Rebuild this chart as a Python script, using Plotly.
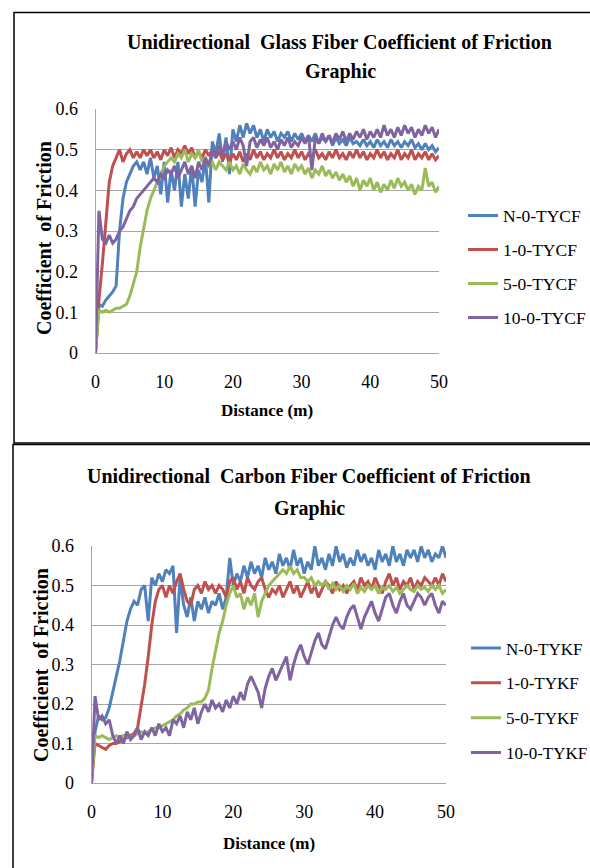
import plotly.graph_objects as go

# ---------------- data ----------------
DIST = [round(i * 0.5, 1) for i in range(101)]  # distance sampling grid (m)

X_TICKS = [0, 10, 20, 30, 40, 50]
Y_TICKS = [0, 0.1, 0.2, 0.3, 0.4, 0.5, 0.6]
Y_TICKTEXT = ["0", "0.1", "0.2", "0.3", "0.4", "0.5", "0.6"]

GLASS_NAMES = ["N-0-TYCF", "1-0-TYCF", "5-0-TYCF", "10-0-TYCF"]
CARBON_NAMES = ["N-0-TYKF", "1-0-TYKF", "5-0-TYKF", "10-0-TYKF"]

glass_n = [
    0, 0.12, 0.115, 0.13, 0.14, 0.15, 0.165, 0.30, 0.38, 0.42,
    0.44, 0.46, 0.47, 0.45, 0.47, 0.44, 0.48, 0.43, 0.46, 0.39,
    0.47, 0.37, 0.45, 0.40, 0.47, 0.36, 0.44, 0.38, 0.46, 0.36,
    0.45, 0.42, 0.48, 0.37, 0.52, 0.49, 0.54, 0.47, 0.53, 0.44,
    0.55, 0.52, 0.56, 0.53, 0.565, 0.54, 0.56, 0.53, 0.55, 0.52,
    0.55, 0.53, 0.545, 0.52, 0.54, 0.53, 0.545, 0.52, 0.54, 0.525,
    0.54, 0.52, 0.535, 0.52, 0.54, 0.515, 0.53, 0.52, 0.535, 0.51,
    0.53, 0.515, 0.525, 0.51, 0.53, 0.515, 0.52, 0.51, 0.525, 0.51,
    0.52, 0.505, 0.525, 0.51, 0.52, 0.505, 0.525, 0.51, 0.52, 0.505,
    0.52, 0.51, 0.525, 0.505, 0.515, 0.50, 0.515, 0.50, 0.51, 0.495,
    0.505,
]
glass_1 = [
    0, 0.13, 0.22, 0.33, 0.42, 0.46, 0.48, 0.50, 0.47, 0.49,
    0.50, 0.48, 0.495, 0.48, 0.50, 0.485, 0.50, 0.48, 0.495, 0.475,
    0.50, 0.485, 0.505, 0.48, 0.50, 0.49, 0.51, 0.49, 0.505, 0.48,
    0.495, 0.48, 0.50, 0.485, 0.50, 0.48, 0.495, 0.475, 0.49, 0.47,
    0.49, 0.475, 0.495, 0.47, 0.49, 0.475, 0.50, 0.48, 0.495, 0.475,
    0.49, 0.48, 0.50, 0.48, 0.495, 0.475, 0.49, 0.48, 0.50, 0.48,
    0.495, 0.475, 0.49, 0.48, 0.50, 0.48, 0.49, 0.475, 0.495, 0.48,
    0.50, 0.48, 0.49, 0.475, 0.495, 0.48, 0.50, 0.48, 0.495, 0.475,
    0.49, 0.48, 0.50, 0.48, 0.495, 0.475, 0.49, 0.48, 0.50, 0.475,
    0.49, 0.48, 0.50, 0.475, 0.49, 0.48, 0.495, 0.475, 0.49, 0.475,
    0.485,
]
glass_5 = [
    0, 0.105, 0.10, 0.105, 0.10, 0.105, 0.11, 0.11, 0.115, 0.12,
    0.14, 0.17, 0.20, 0.26, 0.31, 0.35, 0.38, 0.40, 0.42, 0.44,
    0.46, 0.47, 0.48, 0.47, 0.49, 0.48, 0.50, 0.47, 0.49, 0.48,
    0.50, 0.47, 0.48, 0.46, 0.47, 0.45, 0.47, 0.46, 0.45, 0.47,
    0.45, 0.46, 0.44, 0.465, 0.45, 0.44, 0.46, 0.445, 0.47, 0.45,
    0.46, 0.44, 0.465, 0.45, 0.47, 0.445, 0.46, 0.44, 0.465, 0.45,
    0.46, 0.44, 0.455, 0.43, 0.45, 0.44, 0.46, 0.435, 0.45, 0.43,
    0.445, 0.425, 0.44, 0.42, 0.435, 0.41, 0.43, 0.40, 0.425, 0.41,
    0.43, 0.40, 0.42, 0.395, 0.415, 0.40, 0.425, 0.405, 0.43, 0.41,
    0.42, 0.40, 0.415, 0.39, 0.41, 0.40, 0.455, 0.41, 0.42, 0.395,
    0.41,
]
glass_10 = [
    0, 0.35, 0.28, 0.27, 0.29, 0.27, 0.28, 0.30, 0.31, 0.33,
    0.35, 0.36, 0.38, 0.39, 0.40, 0.41, 0.42, 0.43, 0.42, 0.44,
    0.43, 0.45, 0.44, 0.46, 0.43, 0.45, 0.47, 0.44, 0.46, 0.43,
    0.47, 0.45, 0.48, 0.46, 0.50, 0.48, 0.51, 0.49, 0.52, 0.50,
    0.52, 0.50, 0.53, 0.51, 0.46, 0.52, 0.53, 0.505, 0.525, 0.51,
    0.53, 0.505, 0.52, 0.50, 0.525, 0.51, 0.53, 0.505, 0.52, 0.51,
    0.53, 0.515, 0.535, 0.45, 0.53, 0.515, 0.54, 0.52, 0.535, 0.515,
    0.54, 0.525, 0.545, 0.52, 0.54, 0.525, 0.545, 0.53, 0.55, 0.525,
    0.545, 0.53, 0.55, 0.53, 0.56, 0.535, 0.55, 0.53, 0.555, 0.535,
    0.56, 0.54, 0.555, 0.53, 0.55, 0.535, 0.56, 0.54, 0.555, 0.53,
    0.55,
]

carbon_n = [
    0, 0.13, 0.17, 0.16, 0.165, 0.19, 0.23, 0.27, 0.31, 0.36,
    0.41, 0.44, 0.46, 0.45, 0.49, 0.50, 0.41, 0.52, 0.50, 0.53,
    0.51, 0.54, 0.53, 0.55, 0.38, 0.52, 0.45, 0.42, 0.47, 0.41,
    0.46, 0.44, 0.47, 0.43, 0.46, 0.45, 0.48, 0.44, 0.47, 0.57,
    0.50, 0.53, 0.51, 0.55, 0.52, 0.56, 0.53, 0.55, 0.52, 0.57,
    0.54, 0.56, 0.53, 0.58, 0.55, 0.57, 0.54, 0.59, 0.55, 0.57,
    0.53, 0.56, 0.54, 0.60, 0.55, 0.57, 0.54, 0.58, 0.55, 0.60,
    0.56, 0.58, 0.545, 0.57, 0.55, 0.59, 0.56, 0.58, 0.55, 0.57,
    0.54, 0.59, 0.56, 0.58, 0.55, 0.60, 0.56, 0.58, 0.55, 0.59,
    0.57, 0.59, 0.56, 0.60, 0.57, 0.59, 0.56, 0.58, 0.57, 0.60,
    0.57,
]
carbon_1 = [
    0, 0.10, 0.095, 0.09, 0.085, 0.095, 0.10, 0.10, 0.105, 0.11,
    0.115, 0.12, 0.125, 0.14, 0.19, 0.25, 0.32, 0.40, 0.46, 0.49,
    0.50, 0.47, 0.50, 0.48, 0.51, 0.53, 0.49, 0.46, 0.45, 0.49,
    0.50, 0.48, 0.51, 0.49, 0.50, 0.48, 0.50, 0.49, 0.47, 0.51,
    0.52, 0.49, 0.51, 0.48, 0.52, 0.50, 0.49, 0.51, 0.52, 0.49,
    0.47, 0.49, 0.48, 0.50, 0.47, 0.49, 0.51, 0.48, 0.50, 0.47,
    0.49, 0.51, 0.48, 0.50, 0.47, 0.49, 0.51, 0.50, 0.48, 0.51,
    0.49, 0.50, 0.48, 0.50, 0.51, 0.49, 0.52, 0.50, 0.51, 0.49,
    0.52, 0.50, 0.48, 0.51, 0.53, 0.50, 0.52, 0.49, 0.51, 0.50,
    0.52, 0.49, 0.51, 0.50, 0.52, 0.51, 0.50, 0.52, 0.50, 0.53,
    0.51,
]
carbon_5 = [
    0, 0.12, 0.115, 0.12, 0.115, 0.11, 0.115, 0.12, 0.115, 0.12,
    0.12, 0.115, 0.12, 0.125, 0.13, 0.125, 0.13, 0.135, 0.14, 0.14,
    0.145, 0.15, 0.155, 0.16, 0.17, 0.175, 0.185, 0.19, 0.20, 0.20,
    0.205, 0.205, 0.215, 0.235, 0.29, 0.34, 0.38, 0.41, 0.45, 0.48,
    0.50, 0.47, 0.48, 0.44, 0.47, 0.45, 0.48, 0.42, 0.46, 0.48,
    0.50, 0.51, 0.52, 0.53, 0.54, 0.53, 0.55, 0.53, 0.54, 0.52,
    0.52, 0.51, 0.52, 0.50, 0.51, 0.50, 0.51, 0.49, 0.505, 0.49,
    0.50, 0.485, 0.50, 0.49, 0.505, 0.48, 0.495, 0.485, 0.50, 0.49,
    0.50, 0.48, 0.495, 0.49, 0.50, 0.485, 0.495, 0.48, 0.49, 0.50,
    0.49, 0.485, 0.50, 0.49, 0.495, 0.485, 0.50, 0.49, 0.50, 0.48,
    0.49,
]
carbon_10 = [
    0, 0.22, 0.16, 0.17, 0.15, 0.16, 0.12, 0.10, 0.12, 0.10,
    0.13, 0.11, 0.12, 0.14, 0.11, 0.13, 0.12, 0.14, 0.12, 0.15,
    0.13, 0.14, 0.12, 0.16, 0.15, 0.17, 0.14, 0.18, 0.16, 0.19,
    0.15, 0.18, 0.20, 0.18, 0.21, 0.19, 0.20, 0.18, 0.21, 0.19,
    0.22, 0.20, 0.23, 0.21, 0.25, 0.27, 0.25, 0.23, 0.19, 0.24,
    0.27, 0.29, 0.26, 0.28, 0.30, 0.32, 0.26, 0.30, 0.33, 0.35,
    0.32, 0.30, 0.33, 0.36, 0.38, 0.35, 0.34, 0.37, 0.40, 0.42,
    0.40, 0.39, 0.42, 0.44, 0.45, 0.42, 0.39, 0.42, 0.44, 0.46,
    0.43, 0.41, 0.44, 0.47, 0.48, 0.45, 0.43, 0.46, 0.48, 0.45,
    0.44, 0.46, 0.48, 0.47, 0.45, 0.47, 0.48, 0.45, 0.43, 0.46,
    0.45,
]

for s in (glass_n, glass_1, glass_5, glass_10, carbon_n, carbon_1, carbon_5, carbon_10):
    assert len(s) == len(DIST), len(s)

COLORS = ["#4F81BD", "#C0504D", "#9BBB59", "#8064A2"]

# ---------------- layout helpers ----------------
W, H = 590, 868
SERIF = "Liberation Serif, Times New Roman, serif"
GRID = "#a6a6a6"


def px(x):
    return x / W


def py(y):
    return 1 - y / H


fig = go.Figure()

for name, vals, col in zip(GLASS_NAMES, [glass_n, glass_1, glass_5, glass_10], COLORS):
    fig.add_trace(go.Scatter(x=DIST, y=vals, mode="lines", name=name,
                             line=dict(color=col, width=3),
                             xaxis="x", yaxis="y", legend="legend", legendgroup=name))

for name, vals, col in zip(CARBON_NAMES, [carbon_n, carbon_1, carbon_5, carbon_10], COLORS):
    fig.add_trace(go.Scatter(x=DIST, y=vals, mode="lines", name=name,
                             line=dict(color=col, width=3),
                             xaxis="x2", yaxis="y2", legend="legend2", legendgroup=name))

tickfont = dict(family=SERIF, size=18, color="black")


def xax(domain, anchor):
    return dict(domain=domain, anchor=anchor, range=[0, 50], tickvals=X_TICKS,
                showgrid=False, showline=True, linecolor=GRID, linewidth=1,
                zeroline=False, ticks="", tickfont=tickfont, automargin=False,
                ticklabelstandoff=12, fixedrange=True)


def yax(domain, anchor):
    return dict(domain=domain, anchor=anchor, range=[0, 0.6], tickvals=Y_TICKS,
                ticktext=Y_TICKTEXT, showgrid=True, gridcolor=GRID, gridwidth=1,
                showline=True, linecolor=GRID, linewidth=1, zeroline=False,
                ticks="", tickfont=tickfont, automargin=False,
                ticklabelstandoff=13, fixedrange=True)


fig.update_layout(
    width=W, height=868, autosize=False, template="none",
    margin=dict(l=0, r=0, t=0, b=0, pad=0, autoexpand=False),
    paper_bgcolor="white", plot_bgcolor="white",
    xaxis=xax([px(95.5), px(439)], "y"),
    yaxis=yax([py(353), py(109)], "x"),
    xaxis2=xax([px(91.5), px(446)], "y2"),
    yaxis2=yax([py(783), py(546)], "x2"),
    legend=dict(x=px(463), y=py(197.5), xanchor="left", yanchor="top",
                font=dict(family=SERIF, size=17.5, color="black"),
                bgcolor="rgba(0,0,0,0)", borderwidth=0,
                tracegroupgap=8.3, itemwidth=30),
    legend2=dict(x=px(466), y=py(630.5), xanchor="left", yanchor="top",
                 font=dict(family=SERIF, size=17, color="black"),
                 bgcolor="rgba(0,0,0,0)", borderwidth=0,
                 tracegroupgap=9.7, itemwidth=30),
    showlegend=True,
)

ann = []


def text(x, y, s, size, angle=0):
    ann.append(dict(x=px(x), y=py(y), xref="paper", yref="paper", text=s,
                    showarrow=False, xanchor="center", yanchor="middle",
                    textangle=angle, font=dict(family=SERIF, size=size, color="black")))


text(339, 42, "<b>Unidirectional&nbsp; Glass Fiber Coefficient of Friction</b>", 20)
text(340, 71, "<b>Graphic</b>", 20)
text(267, 410, "<b>Distance (m)</b>", 17)
text(44, 238, "<b>Coefficient&nbsp; of Friction</b>", 20, -90)

text(308.5, 476, "<b>Unidirectional&nbsp; Carbon Fiber Coefficient of Friction</b>", 20)
text(309, 508, "<b>Graphic</b>", 20)
text(269, 843, "<b>Distance (m)</b>", 17)
text(41, 665, "<b>Coefficient&nbsp; of Friction</b>", 20, -90)

fig.update_layout(annotations=ann)

fig.update_layout(shapes=[
    dict(type="rect", xref="paper", yref="paper", x0=px(14), x1=px(620),
         y0=py(443), y1=py(12.5), line=dict(color="black", width=1.5), layer="below"),
    dict(type="rect", xref="paper", yref="paper", x0=px(13), x1=px(620),
         y0=py(900), y1=py(444.5), line=dict(color="black", width=1.5), layer="below"),
])

fig.write_html("out.html")
